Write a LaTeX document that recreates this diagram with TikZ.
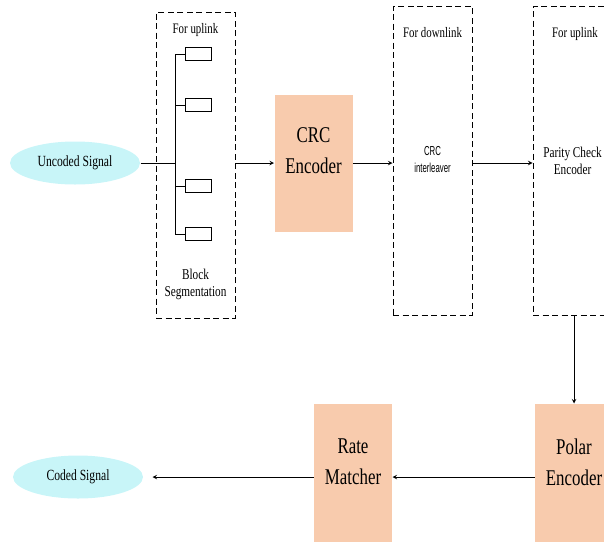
\documentclass[tikz,border=0pt]{standalone}
\usepackage{fontspec}
\setmainfont{Liberation Serif}[FakeStretch=0.75]
\newfontfamily\narrowsans{Liberation Sans}[FakeStretch=0.6]
\usetikzlibrary{shapes.geometric, arrows, positioning}
\definecolor{peach}{RGB}{248,203,173}
\definecolor{skycyan}{RGB}{200,245,248}
\tikzstyle{signal} = [ellipse, minimum width=130pt, minimum height=43pt, inner sep=0pt, fill=skycyan, font=\fontsize{15.5}{18}\selectfont]
\tikzstyle{stage} = [rectangle, minimum width=78pt, inner sep=0pt, fill=peach]
\tikzstyle{bigtext} = [align=center, font=\fontsize{22.5}{31}\selectfont]
\tikzstyle{dashbox} = [rectangle, draw=black, line width=1pt, dash pattern=on 6pt off 3.5pt, inner sep=0pt, minimum width=79pt, minimum height=309pt]
\tikzstyle{note} = [anchor=base, inner sep=0pt, font=\fontsize{14.5}{16}\selectfont]
\tikzstyle{midtext} = [align=center, inner sep=0pt, font=\fontsize{15}{17}\selectfont]
\tikzstyle{segcell} = [rectangle, draw=black, minimum width=26pt, minimum height=13pt, inner sep=0pt]
\tikzstyle{link} = [->,>=stealth]

\begin{document}
\begin{tikzpicture}[x=1pt, y=-1pt, line width=1pt]

        \clip (0,0) rectangle (604,541);

        \node (uncoded) [signal] at (75,163) {Uncoded Signal};
        \node (segbox) [dashbox, minimum height=306pt] at (195.5,165) {};
        \node (segup) [note] at (195.5,33) {For uplink};
        \node (segname) [midtext] at (195.5,284) {Block\\Segmentation};
        \coordinate (split) at (175,163);
        \foreach \y/\n in {54/1,105/2,186/3,234/4} {
            \node (cell\n) [segcell] at (198,\y) {};
            \coordinate (tap\n) at (175,\y);
            \draw (tap\n) -- (cell\n);
        }
        \node (crc) [stage, minimum height=137pt, label={[bigtext, yshift=12pt]center:{CRC\\Encoder}}] at (313.5,163) {};
        \node (ilv) [dashbox] at (432.5,160.5) {};
        \node (ilvup) [note] at (432.5,37) {For downlink};
        \node (ilvname) [midtext, font=\narrowsans\fontsize{13}{17}\selectfont] at (432.5,160) {CRC\\interleaver};
        \node (pce) [dashbox, minimum width=90pt] at (578,160.5) {};
        \node (pceup) [note] at (575,37) {For uplink};
        \node (pcename) [midtext] at (572.5,161) {Parity Check\\Encoder};
        \node (polar) [stage, minimum height=146pt, label={[bigtext, yshift=15pt]center:{Polar\\Encoder}}] at (574,477) {};
        \node (rate) [stage, minimum height=146pt, label={[bigtext, yshift=15pt]center:{Rate\\Matcher}}] at (353,477) {};
        \node (coded) [signal] at (78,477) {Coded Signal};

        % Arrows
        \draw (uncoded) -- (split);
        \draw (tap1) -- (tap4);
        \draw [link] (segbox.east |- crc) -- (crc);
        \draw [link] (crc) -- (crc -| ilv.west);
        \draw [link] (ilv.east |- crc) -- (crc -| pce.west);
        \draw [link] (pce.south -| polar) -- (polar);
        \draw [link] (polar) -- (rate);
        \draw [link, shorten >=9pt] (rate) -- (coded);

    \end{tikzpicture}
\end{document}
